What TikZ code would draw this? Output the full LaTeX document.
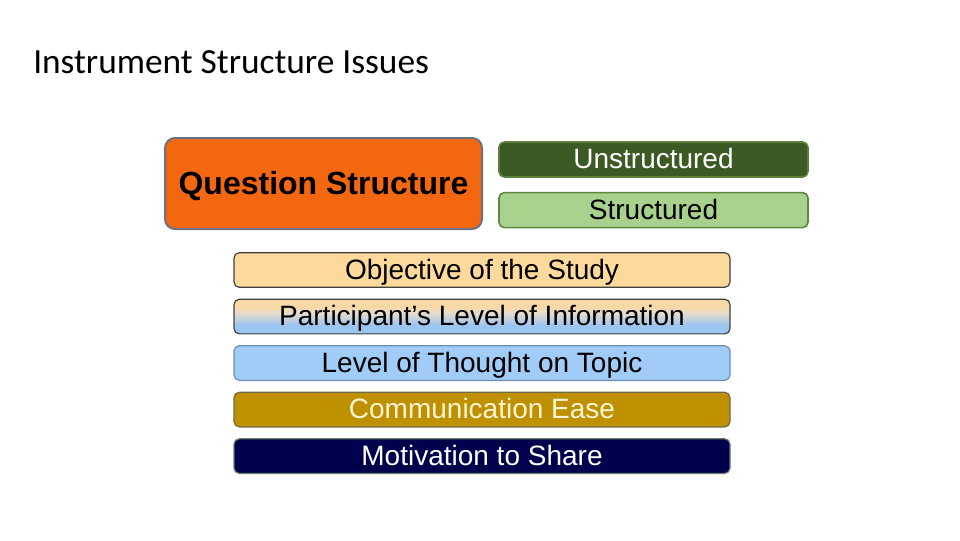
\documentclass[tikz,border=0pt]{standalone}
\usepackage{fontspec}
\setmainfont{Liberation Sans}
\newfontfamily\titlefont{Carlito}
\usepackage{xcolor}
\usepackage{tikz}
\usetikzlibrary{positioning}

\definecolor{qorange}{HTML}{F2670F}
\definecolor{qedge}{HTML}{6B7180}
\definecolor{darkgreen}{HTML}{3C5A23}
\definecolor{darkgreenedge}{HTML}{5E7E3E}
\definecolor{lightgreen}{HTML}{A9D18E}
\definecolor{lightgreenedge}{HTML}{5C8A3C}
\definecolor{peach}{HTML}{FDD99B}
\definecolor{partorange}{HTML}{F8D8A4}
\definecolor{partmid}{HTML}{E6DCCB}
\definecolor{partblue}{HTML}{9CC5F2}
\definecolor{skyblue}{HTML}{A0CCF7}
\definecolor{skyedge}{HTML}{6C8EB0}
\definecolor{gold}{HTML}{BF9000}
\definecolor{goldedge}{HTML}{6B6B4B}
\definecolor{goldtext}{HTML}{FFF5D6}
\definecolor{navy}{HTML}{00004D}
\definecolor{navyedge}{HTML}{6B7A6B}

\pgfdeclareverticalshading{partshade}{100bp}{color(0bp)=(partblue); color(38bp)=(partblue);
  color(55bp)=(partmid); color(65bp)=(partorange); color(100bp)=(partorange)}

\begin{document}
\begin{tikzpicture}[x=0.75pt,y=-0.75pt,
every node/.style = {align=center, text centered, inner sep=0pt},
bar/.style={draw=#1, line width=0.9pt, rounded corners=4pt,
    minimum width=372pt, minimum height=26pt,
    text height=14.7pt, text depth=0.8pt,
    font=\fontsize{21}{24}\selectfont},
choice/.style={draw=#1, line width=1.2pt, rounded corners=4pt,
    minimum width=231.75pt, minimum height=26.25pt,
    text height=14.7pt, text depth=0.8pt,
    font=\fontsize{21}{24}\selectfont},
node distance=8pt]
\useasboundingbox (0,0) rectangle (960,540);

\node[anchor=base west, font=\titlefont\fontsize{26.5}{30}\selectfont] (title) at (33,73) {Instrument Structure Issues};

% question structure and its two kinds
\node[draw=qedge, line width=1.5pt, fill=qorange, rounded corners=7.5pt,
    minimum width=237.75pt, minimum height=68.25pt,
    text height=16.8pt, text depth=0.6pt,
    font=\bfseries\fontsize{24}{28}\selectfont] (qs) at (323.5,183.5) {Question Structure};
\node[choice=darkgreenedge, fill=darkgreen, text=white] (unstr) at (653.5,159.5) {Unstructured};
\node[choice=lightgreenedge, fill=lightgreen, below=10.5pt of unstr] (str) {Structured};

% issues
\node[bar=black!75, fill=peach] (obj) at (482,270) {Objective of the Study};
\node[bar=black!75, shading=partshade, below=of obj] (part) {Participant’s Level of Information};
\node[bar=skyedge, fill=skyblue, below=of part] (thought) {Level of Thought on Topic};
\node[bar=goldedge, fill=gold, text=goldtext, below=of thought] (comm) {Communication Ease};
\node[bar=navyedge, fill=navy, text=white, below=of comm] (motiv) {Motivation to Share};
\end{tikzpicture}
\end{document}
